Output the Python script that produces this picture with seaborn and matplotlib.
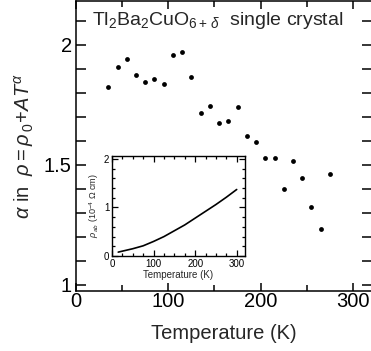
import numpy as np
import pandas as pd
import seaborn as sns
import matplotlib.pyplot as plt
import matplotlib.ticker as mtick

# alpha vs temperature (main panel)
temperature = [35, 45, 55, 65, 75, 85, 95, 105, 115, 125, 135, 145, 155,
               165, 175, 185, 195, 205, 215, 225, 235, 245, 255, 265, 275]
alpha = [1.825, 1.908, 1.942, 1.875, 1.846, 1.858, 1.838, 1.958, 1.971, 1.867,
         1.717, 1.746, 1.675, 1.683, 1.742, 1.621, 1.596, 1.529, 1.529, 1.400,
         1.517, 1.446, 1.325, 1.233, 1.462]

# rho_ab vs temperature (inset)
inset_temp = [15, 25, 50, 75, 100, 125, 150, 175, 200, 225, 250, 275, 300]
inset_rho = [0.08, 0.10, 0.15, 0.21, 0.30, 0.40, 0.52, 0.64, 0.78, 0.92,
             1.06, 1.21, 1.37]

sns.set_style('ticks')
plt.rcParams['font.family'] = ['Liberation Sans', 'DejaVu Sans']
plt.rcParams['mathtext.fontset'] = 'custom'
plt.rcParams['mathtext.rm'] = 'Liberation Sans'
plt.rcParams['mathtext.it'] = 'Liberation Sans:italic'
plt.rcParams['mathtext.sf'] = 'Liberation Sans'

df = pd.DataFrame({'T': temperature, 'alpha': alpha})
df_in = pd.DataFrame({'T': inset_temp, 'rho': inset_rho})

fig = plt.figure(figsize=(3.71, 3.51), dpi=100)
ax = fig.add_axes([76/371, 1 - 291/351, 296/371, 290/351])

sns.scatterplot(data=df, x='T', y='alpha', ax=ax, color='black', s=12,
                linewidth=0, legend=False)
ax.set_xlim(0, 320.6)
ax.set_ylim(0.975, 2.183)
ax.xaxis.set_major_locator(mtick.MultipleLocator(100))
ax.xaxis.set_minor_locator(mtick.MultipleLocator(50))
ax.yaxis.set_major_locator(mtick.FixedLocator([1, 1.5, 2]))
ax.yaxis.set_minor_locator(mtick.MultipleLocator(0.1))
ax.yaxis.set_major_formatter(mtick.FormatStrFormatter('%g'))
ax.tick_params(which='both', direction='in', top=True, right=True,
               width=1.1, labelsize=14.5, colors='black')
ax.tick_params(axis='y', which='both', length=7)
ax.tick_params(axis='x', which='major', length=6, pad=1)
ax.tick_params(axis='x', which='minor', length=4)
ax.tick_params(axis='y', which='major', pad=3)
for sp in ax.spines.values():
    sp.set_linewidth(1.1)
    sp.set_color('black')
ax.set_xlabel('Temperature (K)', fontsize=14.5, labelpad=9)
ax.set_ylabel(r'$\alpha$ in  $\rho=\rho_{\,0}\!+\!AT^{\alpha}$', fontsize=14.5, labelpad=6)
ax.text(0.054, 0.934, r'Tl$_2$Ba$_2$CuO$_{6+\,\delta}$  single crystal',
        transform=ax.transAxes, fontsize=14, va='center', ha='left')

# inset
axi = fig.add_axes([112/371, 1 - 256/351, 133/371, 100/351])
sns.lineplot(data=df_in, x='T', y='rho', ax=axi, color='black', linewidth=1.2)
axi.set_xlim(0, 320)
axi.set_ylim(0, 2.06)
axi.xaxis.set_major_locator(mtick.MultipleLocator(100))
axi.xaxis.set_minor_locator(mtick.MultipleLocator(25))
axi.yaxis.set_major_locator(mtick.MultipleLocator(1))
axi.yaxis.set_minor_locator(mtick.MultipleLocator(0.2))
axi.tick_params(which='both', direction='in', top=True, right=True,
                width=0.9, labelsize=7, colors='black', pad=2)
axi.tick_params(which='major', length=4)
axi.tick_params(which='minor', length=2.5)
for sp in axi.spines.values():
    sp.set_linewidth(1.0)
    sp.set_color('black')
axi.set_xlabel('Temperature (K)', fontsize=7, labelpad=1)
axi.set_ylabel(r'$\rho_{\,ab}$ (10$^{-4}$ $\Omega$ cm)', fontsize=6.5, labelpad=2)

fig.savefig('out.png', dpi=100)
